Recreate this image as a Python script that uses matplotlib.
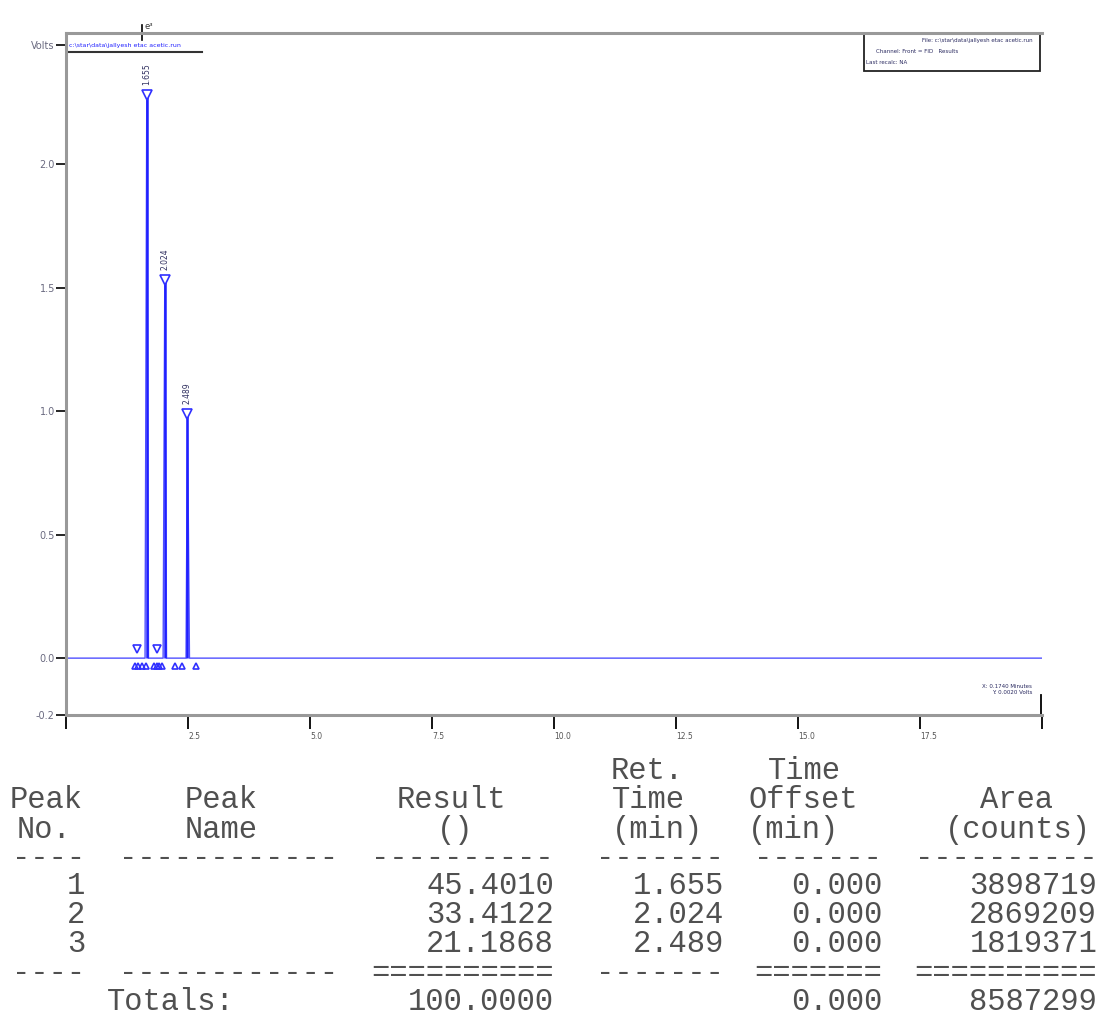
import numpy as np
import matplotlib
matplotlib.use("Agg")
import matplotlib.pyplot as plt

# peak table / chromatogram values
peak_no = [1, 2, 3]
peak_rt = [1.655, 2.024, 2.489]
peak_height = [2.28, 1.53, 0.99]
peak_start = [1.62, 1.99, 2.46]
peak_end = [1.69, 2.06, 2.53]
result = [45.4010, 33.4122, 21.1868]
offset = [0.000, 0.000, 0.000]
area = [3898719, 2869209, 1819371]
total_result = 100.0000
total_offset = 0.000
total_area = 8587299

# integration event markers
event_down_t = [1.446, 1.861]
event_down_v = [0.035, 0.035]
event_up_t = [1.41, 1.47, 1.55, 1.64, 1.80, 1.86, 1.90, 1.96, 2.23, 2.37, 2.66]
event_up_v = [-0.03] * 11

run_end = 20.0
xticks = [0, 2.5, 5.0, 7.5, 10.0, 12.5, 15.0, 17.5, 20.0]
xticklabels = ["", "2.5", "5.0", "7.5", "10.0", "12.5", "15.0", "17.5", ""]
ybottom, ytop = -0.23, 2.53
yticks = [ybottom, 0.0, 0.5, 1.0, 1.5, 2.0, 2.48]

fig = plt.figure(figsize=(11, 10.16), dpi=100)
ax = fig.add_axes([0.06, 0.2963, 0.8873, 0.6712])

# baseline trace with narrow peaks
t = [0.0]
v = [0.0]
for s, rt, h, e in zip(peak_start, peak_rt, peak_height, peak_end):
    t += [s, rt, e]
    v += [0.0, h, 0.0]
t.append(run_end)
v.append(0.0)
ax.plot(t, v, color="#5050ff", lw=1.0)
ax.vlines(peak_rt, 0, peak_height, color="#2020ff", lw=1.8)

# peak apex markers + retention time labels
ax.plot(peak_rt, peak_height, linestyle="none", marker="v", ms=7,
        mfc="white", mec="#3030ff", mew=1.2)
for rt, h in zip(peak_rt, peak_height):
    ax.text(rt, h + 0.04, f"{rt:.3f}", rotation=90, ha="center", va="bottom",
            fontsize=5.5, color="#303060")

ax.plot(event_down_t, event_down_v, linestyle="none", marker="v", ms=6,
        mfc="none", mec="#3030ff", mew=1.2)
ax.plot(event_up_t, event_up_v, linestyle="none", marker="^", ms=5,
        mfc="none", mec="#3030ff", mew=1.2)

ax.set_xlim(0, run_end)
ax.set_ylim(ybottom, ytop)
ax.set_xticks(xticks)
ax.set_xticklabels(xticklabels, fontsize=5.5, color="#555555", ha="left")
ax.set_yticks(yticks)
ax.set_yticklabels([f"{y:.1f}" for y in yticks[:-1]] + ["Volts"],
                   fontsize=7, color="#6a6a80")
ax.tick_params(axis="x", direction="out", length=10, width=1.3, color="black", pad=2)
ax.tick_params(axis="y", direction="out", length=7, width=1.2, color="black", pad=1)
for side in ["left", "bottom", "top"]:
    ax.spines[side].set_color("#999999")
    ax.spines[side].set_linewidth(2.2)
ax.spines["right"].set_visible(False)

# header annotations
ax.annotate("c:\\star\\data\\jallyesh etac acetic.run", xy=(0.003, 0.985),
            xycoords="axes fraction", fontsize=4.5, color="#2020ff",
            ha="left", va="top")
ax.plot([0.003, 0.139], [0.972, 0.972], transform=ax.transAxes,
        color="#333333", lw=1.5)
ax.text(0.08, 1.003, "e³", transform=ax.transAxes, fontsize=6,
        color="#333333", ha="left", va="bottom")
ax.plot([0.078, 0.078], [0.99, 1.012], transform=ax.transAxes,
        color="black", lw=1.2, clip_on=False)

box = plt.Rectangle((0.818, 0.945), 0.18, 0.055, transform=ax.transAxes,
                    fill=False, edgecolor="#222222", lw=1.3)
ax.add_patch(box)
ax.text(0.99, 0.993, "File: c:\\star\\data\\jallyesh etac acetic.run",
        transform=ax.transAxes, fontsize=4, ha="right", va="top", color="#2a2a60")
ax.text(0.83, 0.976, "Channel: Front = FID   Results",
        transform=ax.transAxes, fontsize=4, ha="left", va="top", color="#2a2a60")
ax.text(0.82, 0.960, "Last recalc: NA",
        transform=ax.transAxes, fontsize=4, ha="left", va="top", color="#2a2a60")

ax.text(0.99, 0.03, "X: 0.1740 Minutes\nY: 0.0020 Volts", transform=ax.transAxes,
        fontsize=4, ha="right", va="bottom", color="#2a2a60", linespacing=1.2)
ax.plot([0.999, 0.999], [0.0, 0.03], transform=ax.transAxes, color="black", lw=1.3)

# results table, fixed-width text
mono = "Liberation Mono"
tc = "#505050"
fs = 22


def fig_text(x, y, s, ha="left"):
    fig.text(x / 1100, 1 - y / 1016, s, family=mono, fontsize=fs, color=tc,
             ha=ha, va="center")


headers = [
    (10, 800, "Peak"), (17, 830, "No."),
    (185, 800, "Peak"), (185, 830, "Name"),
    (397, 800, "Result"), (437, 830, "()"),
    (611, 771, "Ret."), (612, 800, "Time"), (612, 830, "(min)"),
    (768, 771, "Time"), (748, 800, "Offset"), (748, 830, "(min)"),
    (980, 800, "Area"), (945, 830, "(counts)"),
]
for x, y, s in headers:
    fig_text(x, y, s)

col_right = [85, 338, 554, 724, 882, 1097]
sep1 = ["----", "------------", "----------", "-------", "-------", "----------"]
sep2 = ["----", "------------", "==========", "-------", "=======", "=========="]
for r, s1, s2 in zip(col_right, sep1, sep2):
    fig_text(r, 858, s1, ha="right")
    fig_text(r, 973, s2, ha="right")

for i, y in enumerate([886, 915, 944]):
    fig_text(col_right[0], y, str(peak_no[i]), ha="right")
    fig_text(col_right[2], y, f"{result[i]:.4f}", ha="right")
    fig_text(col_right[3], y, f"{peak_rt[i]:.3f}", ha="right")
    fig_text(col_right[4], y, f"{offset[i]:.3f}", ha="right")
    fig_text(col_right[5], y, f"{area[i]}", ha="right")

fig_text(107, 1002, "Totals:")
fig_text(col_right[2], 1002, f"{total_result:.4f}", ha="right")
fig_text(col_right[4], 1002, f"{total_offset:.3f}", ha="right")
fig_text(col_right[5], 1002, f"{total_area}", ha="right")

fig.savefig("out.png", dpi=100)
